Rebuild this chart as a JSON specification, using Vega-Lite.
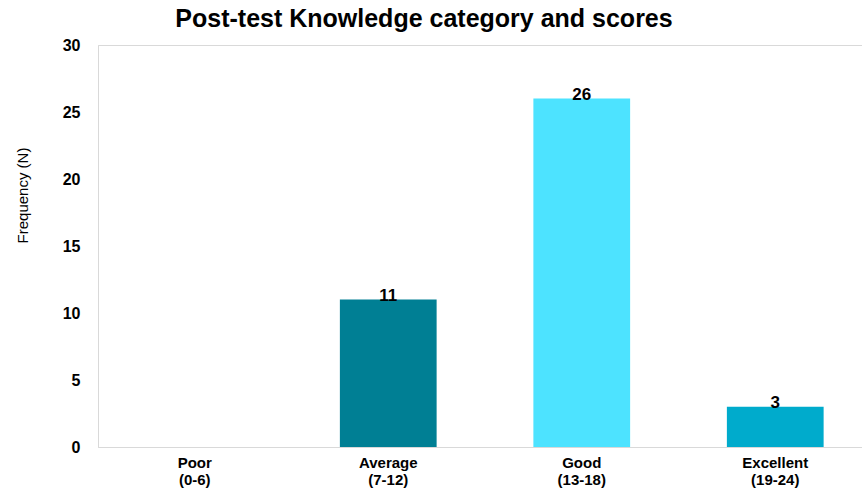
{
  "$schema": "https://vega.github.io/schema/vega-lite/v6.json",
  "autosize": {"type": "none"},
  "padding": {"left": 98, "top": 45, "right": 0, "bottom": 41},
  "width": 764,
  "height": 402,
  "background": "white",
  "title": {
    "text": "Post-test Knowledge category and scores",
    "font": "Liberation Sans",
    "fontSize": 25,
    "fontWeight": "bold",
    "color": "black",
    "anchor": "middle",
    "dx": -56,
    "offset": 5
  },
  "config": {
    "view": {"stroke": "#d9d9d9", "strokeWidth": 1},
    "font": "Liberation Sans"
  },
  "data": {
    "values": [
      {"category": "Poor (0-6)", "frequency": 0},
      {"category": "Average (7-12)", "frequency": 11},
      {"category": "Good (13-18)", "frequency": 26},
      {"category": "Excellent (19-24)", "frequency": 3}
    ]
  },
  "encoding": {
    "x": {
      "field": "category",
      "type": "nominal",
      "sort": null,
      "scale": {"paddingInner": 0.5, "paddingOuter": 0.25, "range": [0, 774]},
      "axis": {
        "title": null,
        "labelAngle": 0,
        "labelExpr": "[split(datum.label, ' (')[0], '(' + split(datum.label, ' (')[1]]",
        "labelFont": "Liberation Sans",
        "labelFontSize": 15,
        "labelFontWeight": "bold",
        "labelColor": "black",
        "labelLineHeight": 17,
        "labelBaseline": "top",
        "labelPadding": 8,
        "ticks": false,
        "domainColor": "#d9d9d9",
        "grid": false
      }
    },
    "y": {
      "field": "frequency",
      "type": "quantitative",
      "scale": {"domain": [0, 30]},
      "axis": {
        "title": "Frequency (N)",
        "titleFont": "Liberation Sans",
        "titleFontSize": 15,
        "titleFontWeight": "normal",
        "titleColor": "black",
        "titleX": -76,
        "titleY": 150,
        "titleAngle": -90,
        "titleAlign": "center",
        "titleBaseline": "middle",
        "values": [0, 5, 10, 15, 20, 25, 30],
        "labelFont": "Liberation Sans",
        "labelFontSize": 16,
        "labelFontWeight": "bold",
        "labelColor": "black",
        "labelPadding": 18,
        "ticks": false,
        "domainColor": "#d9d9d9",
        "grid": false
      }
    }
  },
  "layer": [
    {
      "mark": {"type": "bar"},
      "encoding": {
        "color": {
          "field": "category",
          "type": "nominal",
          "scale": {
            "domain": ["Poor (0-6)", "Average (7-12)", "Good (13-18)", "Excellent (19-24)"],
            "range": ["#007f94", "#007f94", "#4de3ff", "#00abcc"]
          },
          "legend": null
        }
      }
    },
    {
      "transform": [{"filter": "datum.frequency > 0"}],
      "mark": {
        "type": "text",
        "baseline": "alphabetic",
        "dy": 1,
        "font": "Liberation Sans",
        "fontSize": 17,
        "fontWeight": "bold",
        "color": "black"
      },
      "encoding": {
        "text": {"field": "frequency", "type": "quantitative"}
      }
    }
  ]
}
